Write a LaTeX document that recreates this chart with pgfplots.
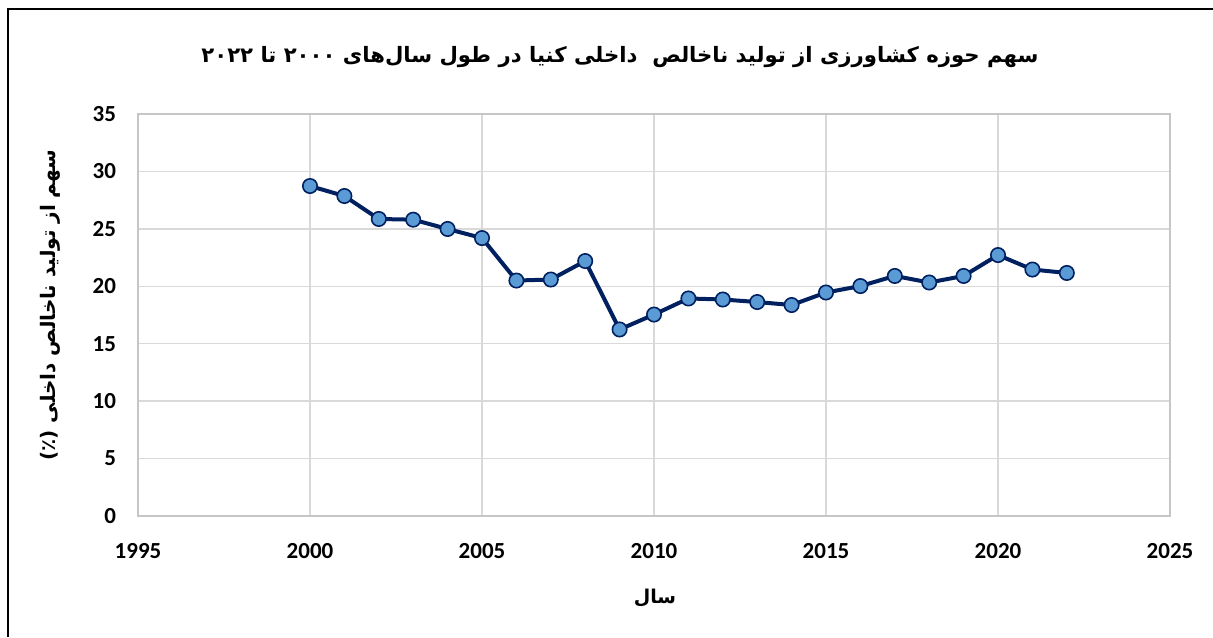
\documentclass[border=0pt]{standalone}
\usepackage{pgfplots}
\pgfplotsset{compat=1.18}
\usepackage{fontspec}
\setmainfont{Carlito}
\newfontfamily\arabicfont[Script=Arabic]{DejaVu Sans}
\TeXXeTstate=1
\definecolor{navy}{RGB}{0,32,96}
\definecolor{mfill}{RGB}{91,155,213}
\begin{document}
\begin{tikzpicture}[x=0.5pt,y=-0.5pt]
\path[use as bounding box] (0,0) rectangle (1213,637);
\draw[line width=1pt] (8,637) -- (8,9) -- (1213,9);
\begin{axis}[at={(69pt,-258pt)}, anchor=south west, scale only axis,
  width=516pt, height=201pt,
  xmin=1995, xmax=2025, ymin=0, ymax=35,
  xtick={1995,2000,...,2025}, ytick={0,5,...,35},
  grid=major, major grid style={gray!30, line width=0.7pt},
  axis line style={gray!45, line width=0.8pt},
  tick style={draw=none},
  /pgf/number format/assume math mode=true,
  /pgf/number format/1000 sep={},
  ticklabel style={font=\bfseries\fontsize{11.5}{13}\selectfont},
  yticklabel style={xshift=-7.5pt},
  xticklabel style={yshift=-10pt},
]
\addplot[navy, line width=2pt, mark=*, mark size=3.6pt,
  mark options={fill=mfill, draw=navy, line width=0.8pt}] coordinates {
(2000,28.73) (2001,27.86) (2002,25.86) (2003,25.80) (2004,24.99)
(2005,24.20) (2006,20.50) (2007,20.59) (2008,22.20) (2009,16.24)
(2010,17.54) (2011,18.94) (2012,18.85) (2013,18.63) (2014,18.37)
(2015,19.46) (2016,20.02) (2017,20.90) (2018,20.33) (2019,20.90)
(2020,22.72) (2021,21.46) (2022,21.16)
};
\end{axis}
\node at (620,57) {\arabicfont\bfseries\fontsize{10.6}{13}\selectfont\beginR سهم حوزه کشاورزی از تولید ناخالص\ \ داخلی کنیا در طول سال‌های \beginL۲۰۰۰\endL{} تا \beginL۲۰۲۲\endL\endR};
\node[rotate=90] at (50,305) {\arabicfont\bfseries\fontsize{10}{12}\selectfont\beginR سهم از تولید ناخالص داخلی (٪)\endR};
\node at (655,598) {\arabicfont\bfseries\fontsize{9.5}{11}\selectfont\beginR سال\endR};
\end{tikzpicture}
\end{document}
